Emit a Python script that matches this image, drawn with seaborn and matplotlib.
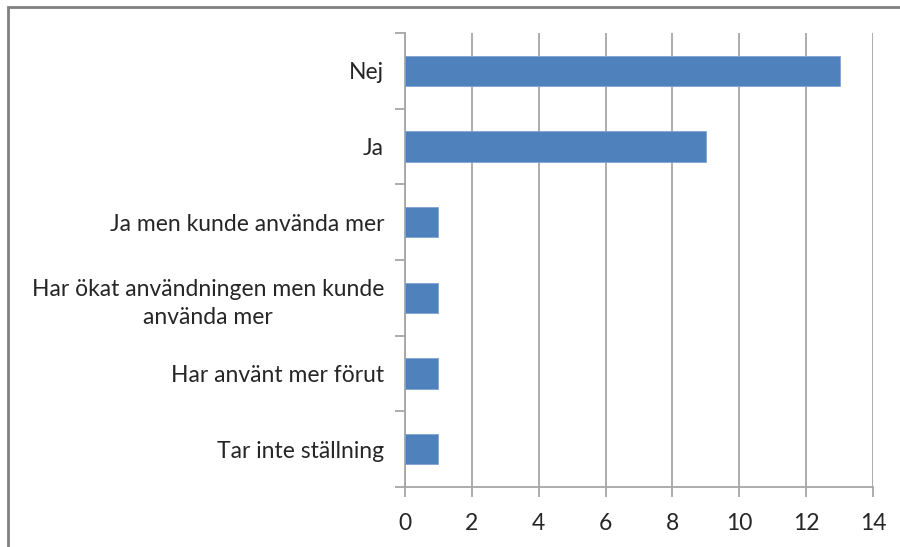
import numpy as np
import pandas as pd
import seaborn as sns
import matplotlib.pyplot as plt
import matplotlib.patches as mpatches

# data
categories = ["Nej", "Ja", "Ja men kunde använda mer",
              "Har ökat användningen men kunde\nanvända mer",
              "Har använt mer förut", "Tar inte ställning"]
counts = [13, 9, 1, 1, 1, 1]
x_ticks = [0, 2, 4, 6, 8, 10, 12, 14]

df = pd.DataFrame({"Svar": categories, "Antal": counts})

sns.set_theme(style="white")
plt.rcParams['font.family'] = ['Lato', 'DejaVu Sans']

bar_color = '#4f81bd'
grid_color = '#a6a6a6'
fs = 16.5

fig = plt.figure(figsize=(9, 5.47), dpi=100)
ax = fig.add_axes([0.45, 0.1097, 0.52, 0.83])

sns.barplot(data=df, y="Svar", x="Antal", order=categories, orient="h",
            color=bar_color, width=0.4, saturation=1, ax=ax,
            edgecolor='#7fa3d0', linewidth=0.6, zorder=3)

ax.set_xlim(0, 14)
ax.set_ylim(len(categories) - 0.5, -0.5)
ax.set_xticks(x_ticks)
ax.set_xticklabels([str(t) for t in x_ticks], fontsize=fs, color='#262626')
ax.set_yticks(range(len(categories)))
ax.set_yticklabels(categories, fontsize=fs, color='#262626',
                   multialignment='center', linespacing=1.45)
ax.set_yticks(np.arange(-0.5, len(categories)), minor=True)
ax.set_xlabel("")
ax.set_ylabel("")

# Excel-like axis styling
ax.grid(False)
ax.xaxis.grid(True, color=grid_color, linewidth=1.3, zorder=0)
for s in ['top', 'right']:
    ax.spines[s].set_visible(False)
for s in ['left', 'bottom']:
    ax.spines[s].set_color(grid_color)
    ax.spines[s].set_linewidth(1.3)
ax.tick_params(axis='y', which='major', length=0, pad=15)
ax.tick_params(axis='y', which='minor', length=7, width=1.3, color=grid_color, left=True)
ax.tick_params(axis='x', which='major', length=7, width=1.3, color=grid_color,
               bottom=True, pad=12)

# chart frame (only left and top edges visible in the reference)
frame = mpatches.Rectangle((0.009, 0.987 - 1.3), 1.2, 1.3,
                           transform=fig.transFigure, fill=False,
                           edgecolor='#808080', linewidth=2.0)
fig.patches.append(frame)

fig.savefig("out.png", dpi=100)
